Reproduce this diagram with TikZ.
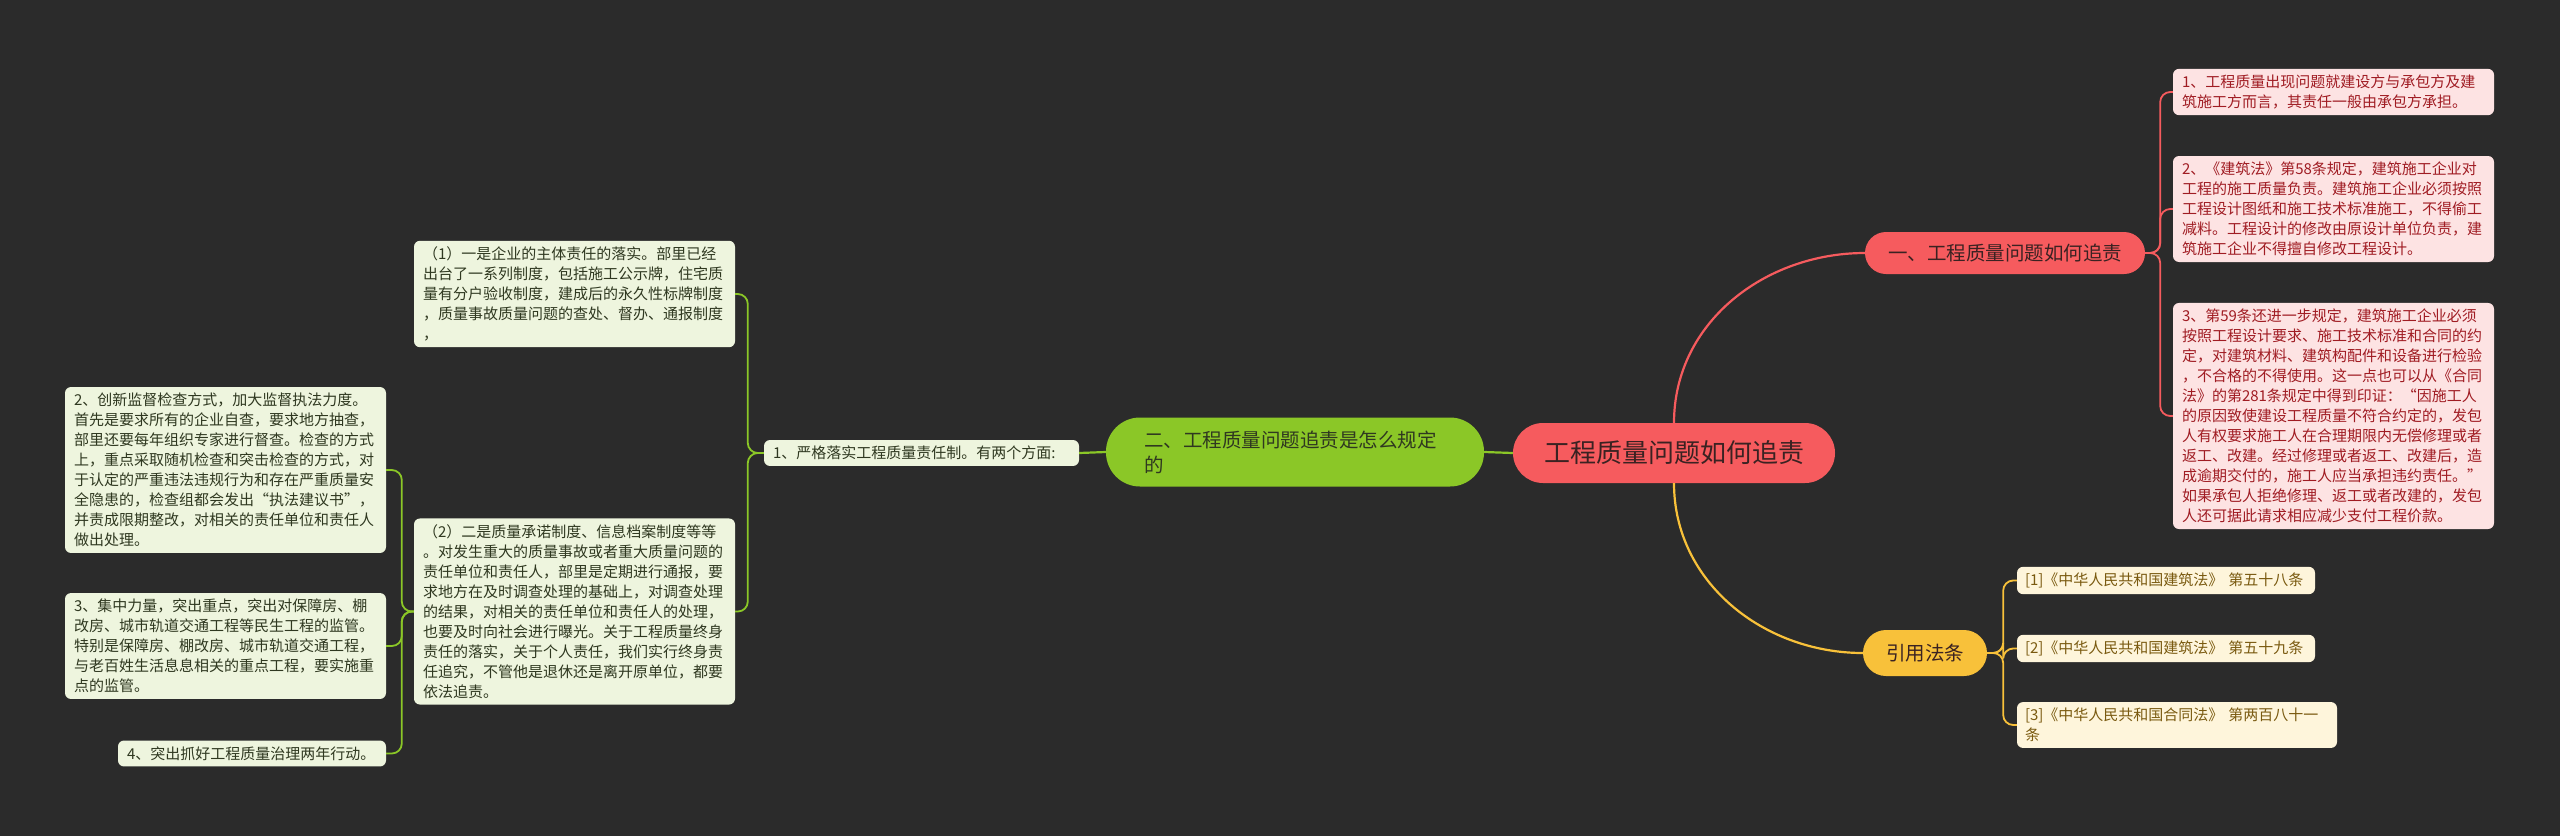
\documentclass[tikz,border=0pt]{standalone}
\usepackage{fontspec}
\setmainfont{Noto Sans CJK SC}
\definecolor{bg}{HTML}{2B2B2B}
\definecolor{redmain}{HTML}{F65B5E}
\definecolor{redleaf}{HTML}{FDE3E3}
\definecolor{redtext}{HTML}{A01C23}
\definecolor{grnmain}{HTML}{8BC727}
\definecolor{grnleaf}{HTML}{EEF5DE}
\definecolor{grntext}{HTML}{2F3820}
\definecolor{ylwmain}{HTML}{F8C13A}
\definecolor{ylwleaf}{HTML}{FEF5DB}
\definecolor{ylwtext}{HTML}{7A5A10}
\definecolor{darktext}{HTML}{3A2222}
\tikzset{
	leaf/.style={rounded corners=6pt, inner xsep=9pt, inner ysep=6pt, align=left, font=\fontsize{15}{20}\selectfont},
	redbox/.style={leaf, fill=redleaf, text=redtext, text width=303pt},
	grnbox/.style={leaf, fill=grnleaf, text=grntext},
	ylwbox/.style={leaf, fill=ylwleaf, text=ylwtext, inner xsep=8pt},
	pill/.style={text=darktext, inner sep=0pt},
	rline/.style={draw=redmain, line width=2.2pt},
	gline/.style={draw=grnmain, line width=2.2pt},
	yline/.style={draw=ylwmain, line width=2.2pt},
	bracket/.style={rounded corners=10pt, line width=1.8pt},
}
\begin{document}
\begin{tikzpicture}[x=1pt,y=-1pt]
	\fill[bg] (0,0) rectangle (2560,836);
	\useasboundingbox (0,0) rectangle (2560,836);
	% main topics
	\draw (1674,453) node[pill, fill=redmain, rounded corners=30pt, minimum width=322pt, minimum height=60pt, font=\fontsize{26}{30}\selectfont] (R) {工程质量问题如何追责};
	\draw (2005,253) node[pill, fill=redmain, rounded corners=21pt, minimum width=280pt, minimum height=42pt, font=\fontsize{19.5}{24}\selectfont] (A) {一、工程质量问题如何追责};
	\draw (1295,452) node[pill, fill=grnmain, text=grntext, rounded corners=34pt, minimum height=69pt, inner xsep=38pt, text width=302pt, align=left, font=\fontsize{19.5}{25}\selectfont] (B) {二、工程质量问题追责是怎么规定\\的};
	\draw (1925,653) node[pill, fill=ylwmain, text=darktext, rounded corners=23pt, minimum width=124pt, minimum height=46pt, font=\fontsize{19.5}{24}\selectfont] (Y) {引用法条};
	% red leaves
	\draw (2333.5,92) node[redbox] (A1) {1、工程质量出现问题就建设方与承包方及建\\筑施工方而言，其责任一般由承包方承担。};
	\draw (2333.5,209) node[redbox] (A2) {2、《建筑法》第58条规定，建筑施工企业对\\工程的施工质量负责。建筑施工企业必须按照\\工程设计图纸和施工技术标准施工，不得偷工\\减料。工程设计的修改由原设计单位负责，建\\筑施工企业不得擅自修改工程设计。};
	\draw (2333.5,416) node[redbox] (A3) {3、第59条还进一步规定，建筑施工企业必须\\按照工程设计要求、施工技术标准和合同的约\\定，对建筑材料、建筑构配件和设备进行检验\\，不合格的不得使用。这一点也可以从《合同\\法》的第281条规定中得到印证：“因施工人\\的原因致使建设工程质量不符合约定的，发包\\人有权要求施工人在合理期限内无偿修理或者\\返工、改建。经过修理或者返工、改建后，造\\成逾期交付的，施工人应当承担违约责任。”\\如果承包人拒绝修理、返工或者改建的，发包\\人还可据此请求相应减少支付工程价款。};
	% yellow leaves
	\draw (2166,580.5) node[ylwbox, text width=282pt] (Y1) {[1]《中华人民共和国建筑法》 第五十八条};
	\draw (2166,648.5) node[ylwbox, text width=282pt] (Y2) {[2]《中华人民共和国建筑法》 第五十九条};
	\draw (2177,725) node[ylwbox, text width=304pt] (Y3) {[3]《中华人民共和国合同法》 第两百八十一\\条};
	% green leaves
	\draw (921.5,453) node[grnbox, text width=297pt] (B1) {1、严格落实工程质量责任制。有两个方面:};
	\draw (574.5,294) node[grnbox, text width=303pt] (B11) {（1）一是企业的主体责任的落实。部里已经\\出台了一系列制度，包括施工公示牌，住宅质\\量有分户验收制度，建成后的永久性标牌制度\\，质量事故质量问题的查处、督办、通报制度\\，};
	\draw (574.5,611.5) node[grnbox, text width=303pt] (B12) {（2）二是质量承诺制度、信息档案制度等等\\。对发生重大的质量事故或者重大质量问题的\\责任单位和责任人，部里是定期进行通报，要\\求地方在及时调查处理的基础上，对调查处理\\的结果，对相关的责任单位和责任人的处理，\\也要及时向社会进行曝光。关于工程质量终身\\责任的落实，关于个人责任，我们实行终身责\\任追究，不管他是退休还是离开原单位，都要\\依法追责。};
	\draw (225.5,470) node[grnbox, text width=303pt] (B121) {2、创新监督检查方式，加大监督执法力度。\\首先是要求所有的企业自查，要求地方抽查，\\部里还要每年组织专家进行督查。检查的方式\\上，重点采取随机检查和突击检查的方式，对\\于认定的严重违法违规行为和存在严重质量安\\全隐患的，检查组都会发出“执法建议书”，\\并责成限期整改，对相关的责任单位和责任人\\做出处理。};
	\draw (225.5,646) node[grnbox, text width=303pt] (B122) {3、集中力量，突出重点，突出对保障房、棚\\改房、城市轨道交通工程等民生工程的监管。\\特别是保障房、棚改房、城市轨道交通工程，\\与老百姓生活息息相关的重点工程，要实施重\\点的监管。};
	\draw (252,753.5) node[grnbox, text width=250pt] (B123) {4、突出抓好工程质量治理两年行动。};
	% connectors
	\draw[rline] (R.north) to[out=90, in=180] (A.west);
	\draw[yline] (R.south) to[out=-90, in=180] (Y.west);
	\draw[gline] (R.west) -- (B.east);
	\draw[gline] (B.west) -- (B1.east);
	\foreach \n in {A1,A2,A3}
		\draw[rline, bracket] (A.east) -- ++(15,0) |- (\n.west);
	\foreach \n in {Y1,Y2,Y3}
		\draw[yline, bracket] (Y.east) -- ++(16,0) |- (\n.west);
	\foreach \n in {B11,B12}
		\draw[gline, bracket] (B1.west) -- ++(-16,0) |- (\n.east);
	\foreach \n in {B121,B122,B123}
		\draw[gline, bracket] (B12.west) -- ++(-12,0) |- (\n.east);
\end{tikzpicture}
\end{document}
